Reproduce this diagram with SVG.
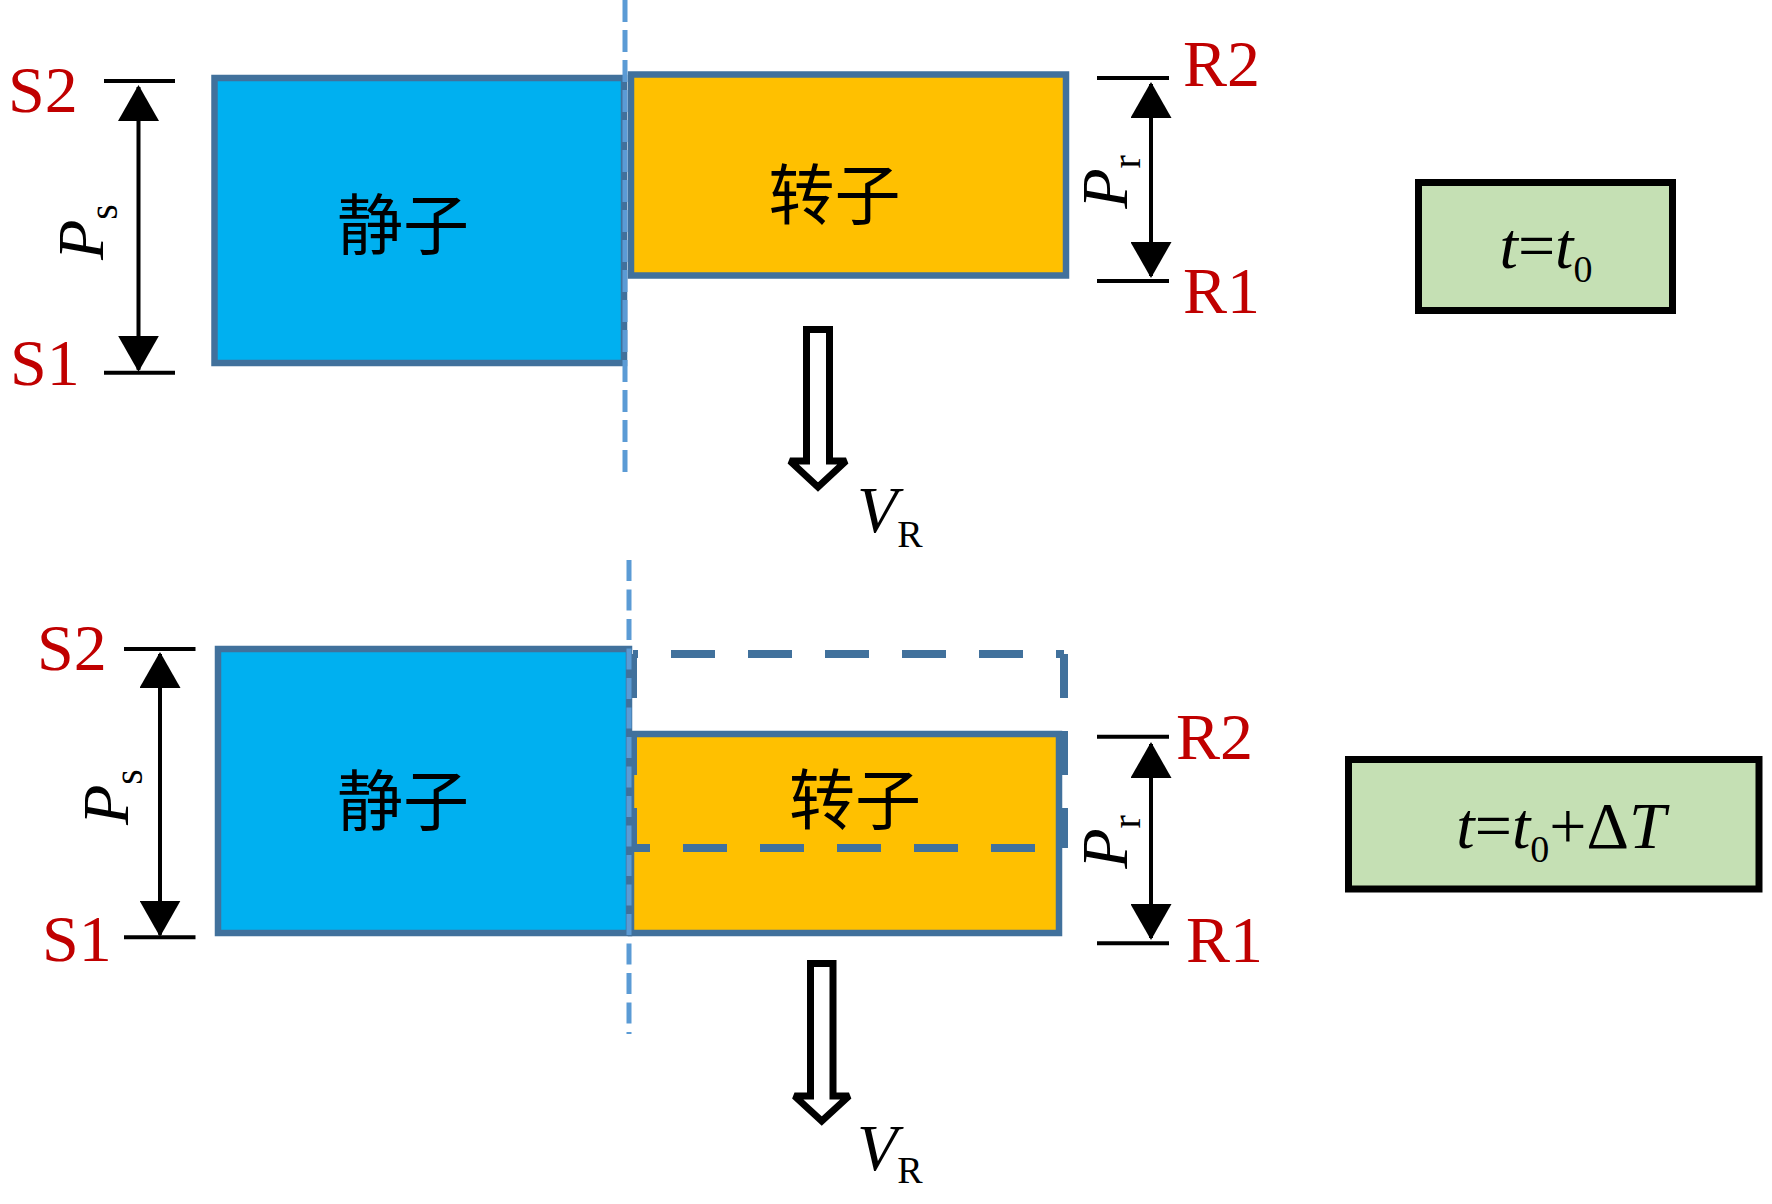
<svg xmlns="http://www.w3.org/2000/svg" width="1772" height="1204" viewBox="0 0 1772 1204">
<style>
.bg{fill:#ffffff}
.stator{fill:#00B0F0;stroke:#41719C;stroke-width:6.5}
.rotor{fill:#FFC000;stroke:#41719C;stroke-width:6.5}
.ghost{fill:none;stroke:#41719C;stroke-width:8;stroke-dasharray:44 33}
.state{fill:#C5E0B4;stroke:#000000;stroke-width:7}
.cn{font-family:"Noto Sans CJK SC","Noto Sans CJK TC",sans-serif;font-size:66px;fill:#000000;text-anchor:middle}
.lbl{font-family:"Liberation Serif","Times New Roman",serif;font-size:66px;fill:#C00000}
.math{font-family:"Liberation Serif","Times New Roman",serif;font-size:66px;fill:#000000}
.it{font-style:italic}
.up{font-style:normal}
.tick{stroke:#000000;stroke-width:4;fill:none}
.dim{stroke:#000000;stroke-width:4;fill:none;marker-start:url(#tri);marker-end:url(#tri)}
.axis{stroke:#5B9BD5;stroke-width:5;fill:none}
.move{fill:#ffffff;stroke:#000000;stroke-width:7;stroke-linejoin:miter;stroke-miterlimit:2}
</style>
<defs>
<marker id="tri" viewBox="0 0 36 41" markerUnits="userSpaceOnUse" markerWidth="36" markerHeight="41" refX="34" refY="20.5" orient="auto-start-reverse">
<path d="M0,0 L36,20.5 L0,41 Z" fill="#000000"/>
</marker>
</defs>
<rect class="bg" x="0" y="0" width="1772" height="1204"/>

<!-- top state (t = t0) -->
<g id="stator-top">
<rect class="stator" x="214.5" y="78" width="409.5" height="285"/>
<text class="cn" x="403" y="249">静子</text>
</g>
<g id="rotor-top">
<rect class="rotor" x="631" y="74.5" width="435" height="201"/>
<text class="cn" x="834.5" y="219">转子</text>
</g>
<g id="state-top">
<rect class="state" x="1418.5" y="182.5" width="254" height="128"/>
<text class="math" x="1546" y="268" text-anchor="middle" font-size="60"><tspan class="it">t</tspan><tspan class="up">=</tspan><tspan class="it">t</tspan><tspan class="up" font-size="38" dy="14">0</tspan></text>
</g>

<!-- bottom state (t = t0 + dT) -->
<g id="stator-bottom">
<rect class="stator" x="218" y="649" width="411" height="284"/>
<text class="cn" x="403" y="825">静子</text>
</g>
<g id="rotor-bottom">
<rect class="rotor" x="631" y="734" width="428" height="199"/>
<text class="cn" x="855" y="824">转子</text>
</g>
<g id="rotor-previous">
<line class="ghost" x1="633" y1="654" x2="1064" y2="654" stroke-dashoffset="39"/>
<line class="ghost" x1="1064" y1="654" x2="1064" y2="848" stroke-dasharray="44 32"/>
<line class="ghost" x1="633" y1="848" x2="1064" y2="848" stroke-dashoffset="27"/>
<line class="ghost" x1="633" y1="654" x2="633" y2="848" stroke-dasharray="44 33"/>
</g>
<g id="state-bottom">
<rect class="state" x="1348.5" y="759.5" width="410.5" height="129.5"/>
<text class="math" x="1561" y="848" text-anchor="middle" font-size="60"><tspan class="it">t</tspan><tspan class="up">=</tspan><tspan class="it">t</tspan><tspan class="up" font-size="38" dy="14">0</tspan><tspan class="up" dy="-14">+Δ</tspan><tspan class="it">T</tspan></text>
</g>

<!-- labels -->
<g id="labels">
<text class="lbl" x="8" y="112">S2</text>
<text class="lbl" x="10" y="385">S1</text>
<text class="lbl" x="1183" y="86">R2</text>
<text class="lbl" x="1183" y="313">R1</text>
<text class="lbl" x="37" y="670">S2</text>
<text class="lbl" x="42" y="961">S1</text>
<text class="lbl" x="1176" y="759">R2</text>
<text class="lbl" x="1186" y="962">R1</text>
<text class="math" transform="translate(103,232) rotate(-90)" text-anchor="middle"><tspan class="it">P</tspan><tspan class="up" font-size="40" dy="14">s</tspan></text>
<text class="math" transform="translate(128,797) rotate(-90)" text-anchor="middle"><tspan class="it">P</tspan><tspan class="up" font-size="40" dy="14">s</tspan></text>
<text class="math" transform="translate(1127,182) rotate(-90)" text-anchor="middle"><tspan class="it">P</tspan><tspan class="up" font-size="40" dy="13">r</tspan></text>
<text class="math" transform="translate(1127,842) rotate(-90)" text-anchor="middle"><tspan class="it">P</tspan><tspan class="up" font-size="40" dy="13">r</tspan></text>
<text class="math" x="857" y="532" font-size="62"><tspan class="it">V</tspan><tspan class="up" font-size="38" dy="15">R</tspan></text>
<text class="math" x="857" y="1170" font-size="62"><tspan class="it">V</tspan><tspan class="up" font-size="38" dy="13">R</tspan></text>
</g>

<!-- connectors -->
<g id="connectors">
<line class="tick" x1="104" y1="81" x2="175" y2="81"/>
<line class="tick" x1="104" y1="372.7" x2="175" y2="372.7"/>
<line class="dim" x1="138.5" y1="87" x2="138.5" y2="369.7"/>
<line class="tick" x1="1097" y1="78" x2="1169" y2="78"/>
<line class="tick" x1="1097" y1="281" x2="1169" y2="281"/>
<line class="dim" x1="1151" y1="84" x2="1151" y2="276"/>
<line class="tick" x1="124" y1="649" x2="195.5" y2="649"/>
<line class="tick" x1="124" y1="937.3" x2="195.5" y2="937.3"/>
<line class="dim" x1="160" y1="654" x2="160" y2="934.7"/>
<line class="tick" x1="1097" y1="736.7" x2="1169" y2="736.7"/>
<line class="tick" x1="1097" y1="943.3" x2="1169" y2="943.3"/>
<line class="dim" x1="1151" y1="744" x2="1151" y2="938"/>
<polygon class="move" points="806.5,329.5 829.5,329.5 829.5,461 846,461 818,487 790,461 806.5,461"/>
<polygon class="move" points="810.5,963.5 833,963.5 833,1096 849,1096 821.75,1121 794.5,1096 810.5,1096"/>
<line class="axis" x1="625" y1="0" x2="625" y2="475" stroke-dasharray="22 8"/>
<line class="axis" x1="629" y1="560" x2="629" y2="1034" stroke-dasharray="21 8.5"/>
</g>
</svg>
